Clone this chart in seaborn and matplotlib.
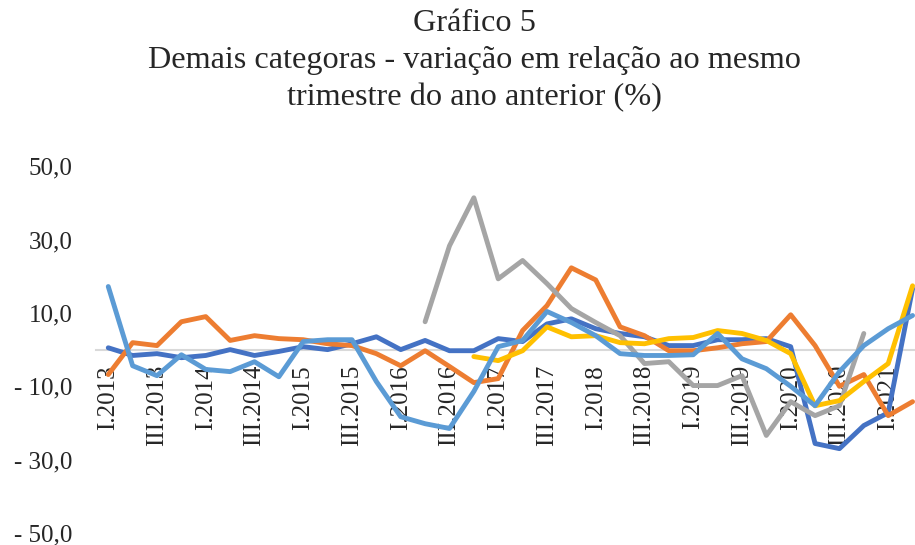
import numpy as np
import pandas as pd
import matplotlib
matplotlib.use("Agg")
import matplotlib.pyplot as plt
import seaborn as sns
import matplotlib.ticker as plticker

sns.set_theme(style="white")
plt.rcParams["font.family"] = ["Liberation Serif", "DejaVu Serif"]

quarters = [f"{q}.{y}" for y in range(2013, 2022) for q in ["I", "II", "III", "IV"]][:34]

s1 = [0.5, -1.6, -1.1, -2.2, -1.6, 0.0, -1.6, -0.5, 0.8, 0.0, 1.6, 3.5, 0.0, 2.5, -0.3, -0.3,
      3.0, 2.2, 7.0, 8.4, 5.7, 4.4, 3.5, 1.1, 1.1, 2.7, 2.7, 3.0, 0.8, -25.6, -27.0, -20.7, -17.2, 16.6]
s2 = [-6.8, 1.9, 1.1, 7.6, 9.0, 2.5, 3.8, 3.0, 2.7, 1.6, 1.1, -1.1, -4.4, -0.3, -4.6, -9.0,
      -7.9, 5.2, 12.0, 22.3, 19.0, 6.2, 3.8, -0.3, -0.3, 0.5, 1.6, 2.2, 9.5, 1.1, -10.0, -6.8, -18.0, -14.2]
s3 = [np.nan] * 13 + [7.6, 28.3, 41.4, 19.3, 24.3, 18.0, 11.2, 7.4, 3.8, -3.8, -3.3, -9.8, -9.8,
                      -7.1, -23.4, -14.2, -18.0, -15.3, 4.4, np.nan, np.nan]
s4 = [np.nan] * 15 + [-1.9, -3.0, -0.3, 6.2, 3.5, 3.8, 1.9, 1.6, 3.0, 3.3, 5.2,
                      4.4, 2.5, -1.1, -15.3, -13.9, -8.7, -3.8, 17.4]
s5 = [17.2, -4.4, -7.1, -1.4, -5.4, -6.0, -3.3, -7.4, 2.2, 2.7, 2.7, -8.7, -18.3, -20.2, -21.5, -11.4,
      0.8, 2.5, 10.4, 7.4, 3.8, -1.1, -1.6, -1.6, -1.4, 4.4, -2.5, -5.2, -10.0, -15.3, -6.0, 1.1, 5.7, 9.3]

names = ["Série 1", "Série 2", "Série 3", "Série 4", "Série 5"]
colors = ["#4472C4", "#ED7D31", "#A5A5A5", "#FFC000", "#5B9BD5"]

rows = []
for name, vals in zip(names, [s1, s2, s3, s4, s5]):
    for i, v in enumerate(vals):
        rows.append({"pos": i, "serie": name, "valor": v})
df = pd.DataFrame(rows).dropna()

fig = plt.figure(figsize=(9.15, 5.45), dpi=100)
ax = fig.add_axes([0.105, 0.022, 0.895, 0.673])

sns.lineplot(data=df, x="pos", y="valor", hue="serie", hue_order=names,
             palette=colors, linewidth=3.5, ax=ax, legend=False, sort=False)

ax.set_xlim(-0.5, 33.1)
ax.set_ylim(-50, 50)
ax.set_xlabel("")
ax.set_ylabel("")

for side in ["top", "right", "left"]:
    ax.spines[side].set_visible(False)
ax.spines["bottom"].set_position(("data", 0))
ax.spines["bottom"].set_color("#D9D9D9")
ax.spines["bottom"].set_linewidth(1.5)
ax.spines["bottom"].set_zorder(0)

ax.set_xticks(range(0, 34, 2))
ax.set_xticklabels(quarters[::2], rotation=90, fontsize=18)
ax.set_xticks(np.arange(-0.5, 33.5, 1), minor=True)
ax.tick_params(axis="x", which="major", length=0, pad=11)
ax.tick_params(axis="x", which="minor", length=6, width=1.5, color="#D9D9D9", direction="out")

ax.set_yticks([-50, -30, -10, 10, 30, 50])
ax.yaxis.set_major_formatter(plticker.FuncFormatter(
    lambda v, p: ("- " if v < 0 else "") + f"{abs(v):.1f}".replace(".", ",")))
ax.tick_params(axis="y", length=0, pad=17, labelsize=18)

fig.text(0.519, 0.983, "Gráfico 5\nDemais categoras - variação em relação ao mesmo\ntrimestre do ano anterior (%)",
         ha="center", va="top", fontsize=23.2, linespacing=1.36)

fig.savefig("out.png", dpi=100)
